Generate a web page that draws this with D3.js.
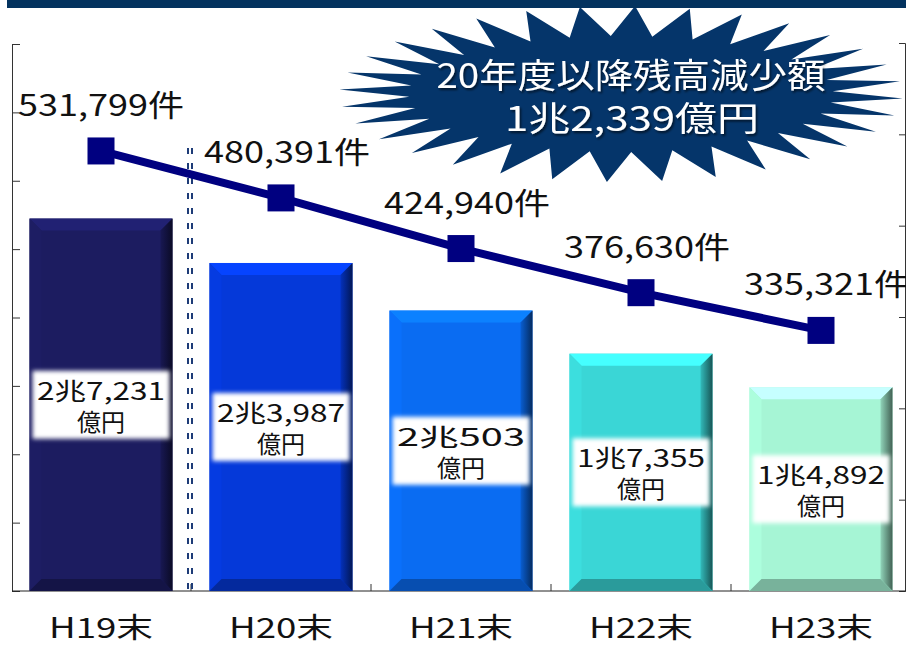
<!DOCTYPE html>
<html>
<head>
<meta charset="utf-8">
<script src="https://cdn.jsdelivr.net/npm/d3@7"></script>
<style>
  body { margin: 0; background: #fff; }
  text { font-family: "Noto Sans CJK JP", "Noto Sans", sans-serif; }
</style>
</head>
<body>
<div id="chart"></div>
<script>
// chart size
const width = 906;
const height = 646;

// data
const categories = ["H19末", "H20末", "H21末", "H22末", "H23末"];
const balances = [27231, 23987, 20503, 17355, 14892]; // 億円
const balanceLabels = ["2兆7,231", "2兆3,987", "2兆503", "1兆7,355", "1兆4,892"];
const counts = [531799, 480391, 424940, 376630, 335321]; // 件
const barColors = ["#1c1c60", "#0539d9", "#0a6cf2", "#3ad6d6", "#a6f5d5"];
const calloutLines = ["20年度以降残高減少額", "1兆2,339億円"];

const baseY = 591;

const svg = d3.select("#chart")
  .append("svg")
  .attr("width", width)
  .attr("height", height);

const defs = svg.append("defs");

// soft white box behind bar labels
defs.append("filter").attr("id", "soft")
  .attr("x", "-10%").attr("y", "-20%").attr("width", "120%").attr("height", "140%")
  .append("feGaussianBlur").attr("stdDeviation", 2);

const shadow = defs.append("filter").attr("id", "shadow");
shadow.append("feDropShadow")
  .attr("dx", 1.5).attr("dy", 2).attr("stdDeviation", 1.2)
  .attr("flood-color", "#000").attr("flood-opacity", 0.6);

// scales
const x = d3.scaleBand()
  .domain(categories)
  .range([11, 911])
  .paddingInner(0.2056)
  .paddingOuter(0.1028);

const yBar = d3.scaleLinear().domain([0, 40000]).range([baseY, 44]);
const yCount = d3.scaleLinear().domain([50000, 650000]).range([baseY, 43]);

// starburst callout (drawn first, banner covers its top)
const burst = { cx: 621, cy: 94, rOutX: 282, rOutY: 88, rInX: 212, rInY: 58, spikes: 32 };
const burstPts = [];
for (let k = 0; k < burst.spikes * 2; k++) {
  const a = (k / (burst.spikes * 2)) * Math.PI * 2 + 0.05;
  const outer = k % 2 === 0;
  const rx = outer ? burst.rOutX : burst.rInX;
  const ry = outer ? burst.rOutY : burst.rInY;
  burstPts.push([burst.cx + rx * Math.cos(a), burst.cy + ry * Math.sin(a)]);
}
svg.append("polygon")
  .attr("points", burstPts.join(" "))
  .attr("fill", "#05356a");

// top banner
svg.append("rect")
  .attr("x", 7).attr("y", 0)
  .attr("width", width - 7).attr("height", 8)
  .attr("fill", "#04335f");

// axes (no tick labels)
const leftAxis = svg.append("g")
  .attr("transform", "translate(12,0)")
  .call(d3.axisRight(yBar).tickValues(d3.range(0, 40001, 5000)).tickSize(8).tickFormat(""));

const rightAxis = svg.append("g")
  .attr("transform", "translate(905,0)")
  .call(d3.axisLeft(yCount).tickValues(d3.range(50000, 650001, 100000)).tickSize(6).tickFormat(""));

[leftAxis, rightAxis].forEach(function(g) {
  g.select(".domain").attr("stroke", "#333");
  g.selectAll(".tick line").attr("stroke", "#333");
});

// baseline
svg.append("line")
  .attr("x1", 12).attr("x2", width)
  .attr("y1", baseY).attr("y2", baseY)
  .attr("stroke", "#222");

// category tick marks between bars
const step = x.step();
svg.selectAll(".cat-tick")
  .data(categories.slice(1))
  .enter()
  .append("line")
  .attr("class", "cat-tick")
  .attr("x1", d => x(d) - (step - x.bandwidth()) / 2)
  .attr("x2", d => x(d) - (step - x.bandwidth()) / 2)
  .attr("y1", baseY)
  .attr("y2", baseY - 7)
  .attr("stroke", "#333");

// bars with bevel
const bev = 12;
categories.forEach(function(cat, i) {
  const c = d3.color(barColors[i]);
  const bx = x(cat);
  const bw = x.bandwidth();
  const by = yBar(balances[i]);
  const bh = baseY - by;

  const grad = defs.append("linearGradient")
    .attr("id", "side" + i)
    .attr("x1", "0").attr("x2", "1").attr("y1", "0").attr("y2", "0");
  grad.append("stop").attr("offset", "0").attr("stop-color", c.darker(0.4));
  grad.append("stop").attr("offset", "1").attr("stop-color", c.darker(2.6));

  const g = svg.append("g");
  g.append("rect")
    .attr("x", bx).attr("y", by)
    .attr("width", bw).attr("height", bh)
    .attr("fill", c);

  g.append("polygon")
    .attr("points", [[bx, by], [bx + bw, by], [bx + bw - bev, by + bev], [bx + bev, by + bev]].join(" "))
    .attr("fill", c.brighter(0.5));
  g.append("polygon")
    .attr("points", [[bx, by], [bx + bev, by + bev], [bx + bev, baseY - bev], [bx, baseY]].join(" "))
    .attr("fill", c.brighter(0.1));
  g.append("polygon")
    .attr("points", [[bx + bw, by], [bx + bw, baseY], [bx + bw - bev, baseY - bev], [bx + bw - bev, by + bev]].join(" "))
    .attr("fill", "url(#side" + i + ")");
  g.append("polygon")
    .attr("points", [[bx, baseY], [bx + bev, baseY - bev], [bx + bw - bev, baseY - bev], [bx + bw, baseY]].join(" "))
    .attr("fill", c.darker(0.9));

  // label box
  const cy = (by + baseY) / 2;
  g.append("rect")
    .attr("x", bx + 3).attr("y", cy - 34)
    .attr("width", bw - 6).attr("height", 68)
    .attr("fill", "#fff")
    .attr("filter", "url(#soft)");

  g.append("text")
    .attr("x", bx + bw / 2).attr("y", cy - 5)
    .attr("text-anchor", "middle")
    .attr("font-size", 24)
    .attr("textLength", 128)
    .attr("lengthAdjust", "spacingAndGlyphs")
    .attr("fill", "#111")
    .text(balanceLabels[i]);

  g.append("text")
    .attr("x", bx + bw / 2).attr("y", cy + 26)
    .attr("text-anchor", "middle")
    .attr("font-size", 24)
    .attr("fill", "#111")
    .text("億円");
});

// dashed divider between H19 and H20
const divX = x(categories[1]) - (step - x.bandwidth()) / 2 - 1;
[-2, 2].forEach(function(off) {
  svg.append("line")
    .attr("x1", divX + off).attr("x2", divX + off)
    .attr("y1", 148).attr("y2", baseY)
    .attr("stroke", "#1e3c78")
    .attr("stroke-width", 2)
    .attr("stroke-dasharray", "6,9");
});

// count line
const cx = d => x(d) + x.bandwidth() / 2;
const line = d3.line()
  .x((d, i) => cx(categories[i]))
  .y(d => yCount(d));

svg.append("path")
  .datum(counts)
  .attr("d", line)
  .attr("fill", "none")
  .attr("stroke", "#000080")
  .attr("stroke-width", 8);

svg.selectAll(".marker")
  .data(counts)
  .enter()
  .append("rect")
  .attr("class", "marker")
  .attr("x", (d, i) => cx(categories[i]) - 13.5)
  .attr("y", d => yCount(d) - 13.5)
  .attr("width", 27)
  .attr("height", 27)
  .attr("fill", "#000080");

const fmt = d3.format(",");
svg.selectAll(".count-label")
  .data(counts)
  .enter()
  .append("text")
  .attr("class", "count-label")
  .attr("x", (d, i) => cx(categories[i]) + (i === 0 ? 0 : 6))
  .attr("y", d => yCount(d) - 35)
  .attr("text-anchor", "middle")
  .attr("font-size", 30)
  .attr("textLength", 166)
  .attr("lengthAdjust", "spacingAndGlyphs")
  .attr("fill", "#111")
  .text(d => fmt(d) + "件");

// category labels
svg.selectAll(".cat-label")
  .data(categories)
  .enter()
  .append("text")
  .attr("class", "cat-label")
  .attr("x", d => cx(d))
  .attr("y", 638)
  .attr("text-anchor", "middle")
  .attr("font-size", 28)
  .attr("textLength", 104)
  .attr("lengthAdjust", "spacingAndGlyphs")
  .attr("fill", "#111")
  .text(d => d);

// callout text
svg.append("text")
  .attr("x", 631).attr("y", 88)
  .attr("text-anchor", "middle")
  .attr("font-size", 34)
  .attr("textLength", 389)
  .attr("lengthAdjust", "spacingAndGlyphs")
  .attr("fill", "#fff")
  .attr("filter", "url(#shadow)")
  .text(calloutLines[0]);

svg.append("text")
  .attr("x", 632).attr("y", 131)
  .attr("text-anchor", "middle")
  .attr("font-size", 34)
  .attr("textLength", 254)
  .attr("lengthAdjust", "spacingAndGlyphs")
  .attr("fill", "#fff")
  .attr("filter", "url(#shadow)")
  .text(calloutLines[1]);
</script>
</body>
</html>
